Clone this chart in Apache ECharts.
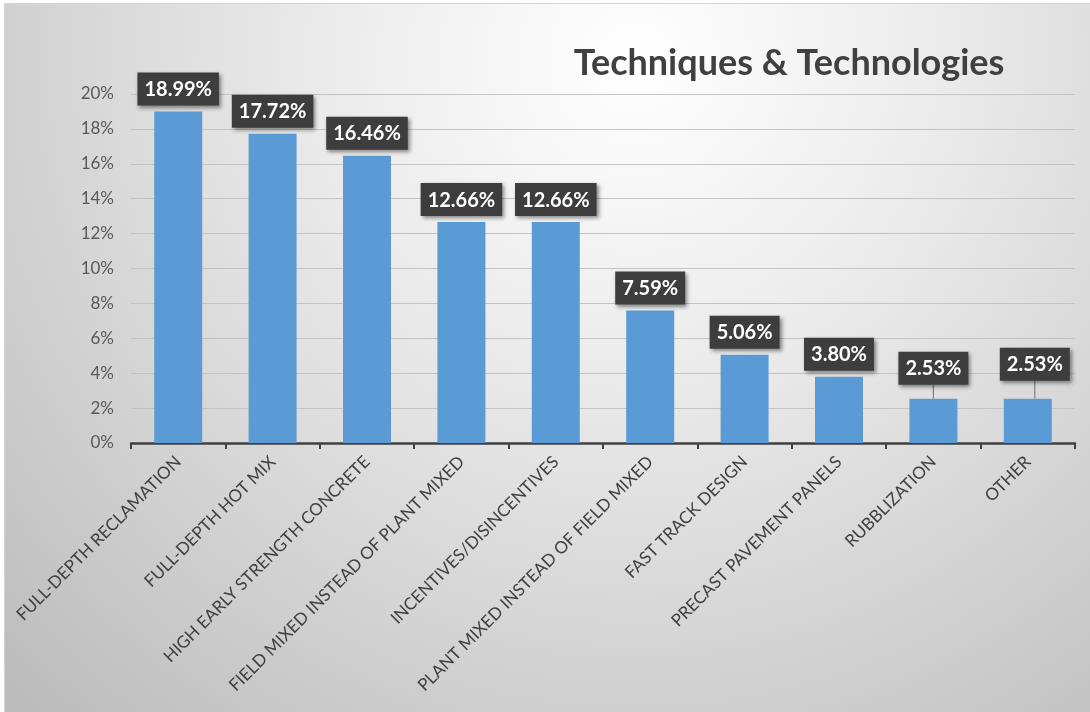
<!DOCTYPE html>
<html>
<head>
<meta charset="utf-8">
<script src="https://cdn.jsdelivr.net/npm/echarts@6/dist/echarts.min.js"></script>
<style>
html,body{margin:0;padding:0;background:#fff;}
#chart{position:absolute;left:4px;top:3px;width:1086px;height:709px;border-top:1px solid #d4d4d4;border-left:1px solid #d4d4d4;box-sizing:border-box;}
</style>
</head>
<body>
<div id="chart"></div>
<script>
const titleText = 'Techniques & Technologies';
const categories = [
  'FULL-DEPTH RECLAMATION',
  'FULL-DEPTH HOT MIX',
  'HIGH EARLY STRENGTH CONCRETE',
  'FIELD MIXED INSTEAD OF PLANT MIXED',
  'INCENTIVES/DISINCENTIVES',
  'PLANT MIXED INSTEAD OF FIELD MIXED',
  'FAST TRACK DESIGN',
  'PRECAST PAVEMENT PANELS',
  'RUBBLIZATION',
  'OTHER'
];
const values = [18.99, 17.72, 16.46, 12.66, 12.66, 7.59, 5.06, 3.80, 2.53, 2.53];
const yTicks = [0, 2, 4, 6, 8, 10, 12, 14, 16, 18, 20];

const chart = echarts.init(document.getElementById('chart'));
const labelShift = {8: {dx: 0, dy: -8}, 9: {dx: 7, dy: -12}};
const seriesData = values.map((v, i) => labelShift[i]
  ? {value: v, labelLine: {show: true, lineStyle: {color: '#7f7f7f', width: 1.2}}}
  : {value: v, labelLine: {show: false}});
chart.setOption({
  backgroundColor: {
    type: 'radial', x: 0.58, y: 0.08, r: 1.25,
    colorStops: [
      {offset: 0, color: '#ffffff'},
      {offset: 0.35, color: '#ebebeb'},
      {offset: 1, color: '#bcbcbc'}
    ]
  },
  animation: false,
  title: {
    text: titleText,
    left: 779, top: 36, textAlign: 'center',
    textStyle: {fontFamily: 'Lato', fontWeight: 'bold', fontSize: 36, color: '#404040'}
  },
  grid: {left: 126, right: 15, top: 90, bottom: 269, containLabel: false},
  xAxis: {
    type: 'category',
    data: categories,
    axisLine: {lineStyle: {color: '#404040', width: 2.5}},
    axisTick: {show: true, length: 6, lineStyle: {color: '#404040', width: 2}},
    axisLabel: {rotate: 45, interval: 0, margin: 16, fontFamily: 'Lato', fontSize: 17, color: '#404040'}
  },
  yAxis: {
    type: 'value',
    min: 0, max: 20, interval: 2,
    axisLine: {show: false},
    axisTick: {show: false},
    axisLabel: {margin: 17, fontFamily: 'Lato', fontSize: 17, color: '#595959',
      formatter: v => yTicks.includes(v) ? v + '%' : ''},
    splitLine: {lineStyle: {color: '#c4c4c4', width: 1}}
  },
  series: [{
    type: 'bar',
    data: seriesData,
    barWidth: 48,
    itemStyle: {color: '#5b9bd5'},
    label: {
      show: true, position: 'top', distance: 6,
      formatter: p => p.value.toFixed(2) + '%',
      fontFamily: 'Lato', fontWeight: 'bold', fontSize: 20, color: '#ffffff',
      backgroundColor: '#3d3d3d', padding: [7, 7, 6, 7],
      shadowColor: 'rgba(0,0,0,0.45)', shadowBlur: 4, shadowOffsetX: 2, shadowOffsetY: 2
    },
    labelLayout: p => {
      const s = labelShift[p.dataIndex];
      return s ? {dx: s.dx, dy: s.dy} : {};
    }
  }]
});
</script>
</body>
</html>
